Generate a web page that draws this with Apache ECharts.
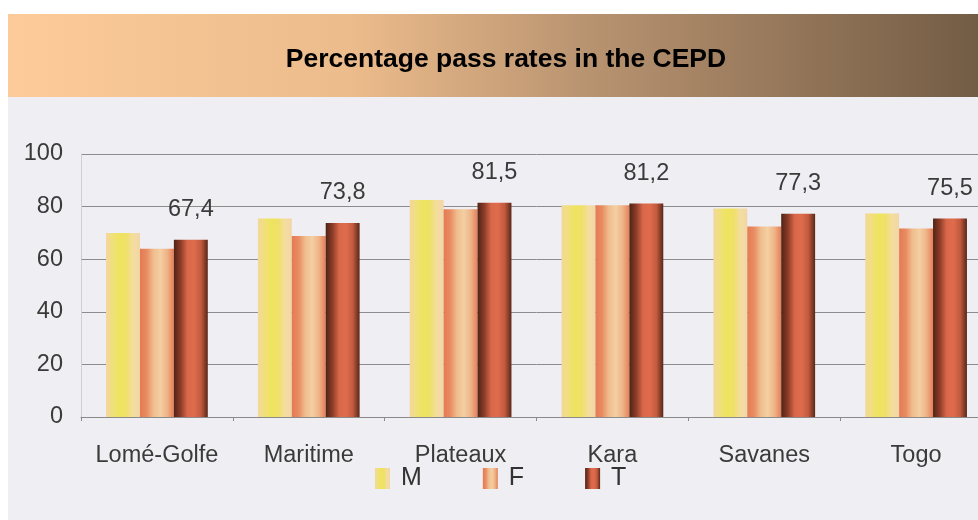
<!DOCTYPE html>
<html>
<head>
<meta charset="utf-8">
<script src="https://cdn.jsdelivr.net/npm/echarts@6/dist/echarts.min.js"></script>
<style>
  html, body { margin: 0; padding: 0; background: #fff; overflow: hidden; }
  #chart { width: 992px; height: 520px; }
</style>
</head>
<body>
<div id="chart"></div>
<script>
// 数据
var regions = ['Lomé-Golfe', 'Maritime', 'Plateaux', 'Kara', 'Savanes', 'Togo'];
var male = [70, 75.5, 82.5, 80.5, 79.3, 77.4];
var female = [64, 68.8, 79, 80.5, 72.4, 71.7];
var total = [67.4, 73.8, 81.5, 81.2, 77.3, 75.5];
var yTicks = [0, 20, 40, 60, 80, 100];

var chart = echarts.init(document.getElementById('chart'));

// 竖条纹渐变，模拟扫描图里的柱子纹理
function stripes(stops) {
  return new echarts.graphic.LinearGradient(0, 0, 1, 0, stops.map(function (c, i) {
    return { offset: i / (stops.length - 1), color: c };
  }));
}

var colM = stripes(['#F3D79C', '#F0E07A', '#EEE45E', '#EFE068', '#F4DDA0', '#F2D6A6']);
var colF = stripes(['#E47A52', '#E98C62', '#F0BE8E', '#F3CFA2', '#EFB488', '#E67E58']);
var colT = stripes(['#4E2416', '#8C3C28', '#D9684A', '#DE6C4C', '#C25A3E', '#5A2718']);

chart.setOption({
  backgroundColor: '#fff',
  animation: false,
  graphic: [
    {
      type: 'rect',
      shape: { x: 8, y: 97, width: 990, height: 423 },
      style: { fill: '#EFEEF2' },
      z: -10
    },
    {
      type: 'rect',
      shape: { x: 8, y: 14, width: 970, height: 83 },
      style: {
        fill: new echarts.graphic.LinearGradient(0, 0, 1, 0, [
          { offset: 0, color: '#FCCB99' },
          { offset: 0.35, color: '#EDBC8C' },
          { offset: 0.6, color: '#B89370' },
          { offset: 1, color: '#735C45' }
        ])
      },
      z: -10
    }
  ],
  title: {
    text: 'Percentage pass rates in the CEPD',
    left: 501,
    textAlign: 'center',
    top: 41,
    textStyle: {
      fontFamily: 'Liberation Sans',
      fontWeight: 'bold',
      fontSize: 26.5,
      color: '#000'
    }
  },
  legend: {
    top: 461,
    left: 370,
    itemGap: 61,
    itemWidth: 15,
    itemHeight: 21,
    icon: 'rect',
    textStyle: { fontFamily: 'Liberation Sans', fontSize: 25, color: '#333', padding: [0, 0, 0, 6] },
    data: ['M', 'F', 'T']
  },
  grid: { left: 81, right: 0, top: 154, bottom: 103 },
  xAxis: {
    type: 'category',
    data: regions,
    axisLine: { lineStyle: { color: '#8A8A8A', width: 1 } },
    axisTick: { show: true, length: 4, inside: false, lineStyle: { color: '#8A8A8A' } },
    axisLabel: { interval: 0, fontFamily: 'Liberation Sans', fontSize: 23.5, color: '#3A3A3A', margin: 27 }
  },
  yAxis: {
    type: 'value',
    min: yTicks[0],
    max: yTicks[yTicks.length - 1],
    interval: 20,
    axisLine: { show: true, lineStyle: { color: '#C8C8C8', type: 'dotted' } },
    axisTick: { show: false },
    axisLabel: { fontFamily: 'Liberation Sans', fontSize: 23.5, color: '#3A3A3A', margin: 18 },
    splitLine: { lineStyle: { color: '#8C8C8C', width: 1 } }
  },
  series: [
    {
      name: 'M', type: 'bar', data: male,
      barGap: '0%', barCategoryGap: '33%',
      itemStyle: { color: colM }
    },
    {
      name: 'F', type: 'bar', data: female,
      itemStyle: { color: colF }
    },
    {
      name: 'T', type: 'bar', data: total,
      itemStyle: { color: colT },
      label: {
        show: true, position: 'top', distance: 18,
        fontFamily: 'Liberation Sans', fontSize: 23.5, color: '#3A3A3A',
        formatter: function (p) { return String(p.value).replace('.', ','); }
      }
    }
  ]
});
</script>
</body>
</html>
